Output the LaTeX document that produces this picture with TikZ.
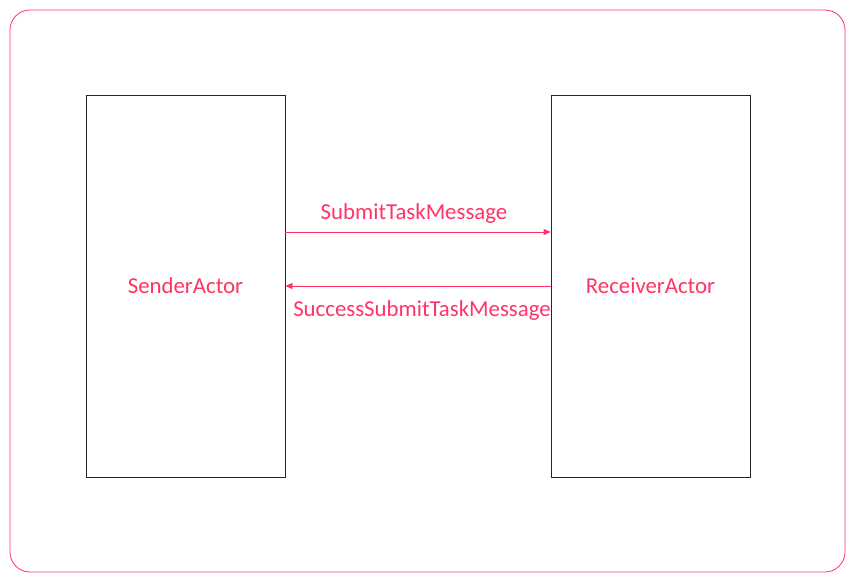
\documentclass[tikz,border=0pt]{standalone}
\usepackage{fontspec}
\setmainfont{Carlito}
\usetikzlibrary{arrows.meta}
\definecolor{pinkred}{HTML}{FF3366}
\tikzset{
  actor/.style={draw=black!85, line width=0.8pt, minimum width=199pt, minimum height=382pt, inner sep=0pt, text=pinkred, font=\fontsize{22.8}{26}\selectfont},
  msg/.style={draw=pinkred, line width=0.8pt, -{Triangle[length=7pt,width=6pt]}},
  lbl/.style={text=pinkred, font=\fontsize{22.8}{26}\selectfont, inner sep=0pt}
}
\begin{document}
\begin{tikzpicture}[x=1pt,y=-1pt]
\useasboundingbox (0,0) rectangle (854,578);
\draw[pinkred, line width=0.8pt, rounded corners=20pt] (10,10) rectangle (845,572);
\node[actor] (sender) at (185.5,286) {\raisebox{-2pt}{SenderActor}};
\node[actor] (receiver) at (650.5,286) {\raisebox{-2pt}{ReceiverActor}};
\coordinate (s1) at (sender.east |- 0,232);
\coordinate (r1) at (receiver.west |- 0,232);
\coordinate (s2) at (sender.east |- 0,286);
\coordinate (r2) at (receiver.west |- 0,286);
\draw[msg] (s1) -- node[lbl, above=8pt, xshift=-4pt] (m1) {SubmitTaskMessage} (r1);
\draw[msg] (r2) -- node[lbl, below=14pt, xshift=4pt] (m2) {SuccessSubmitTaskMessage} (s2);
\end{tikzpicture}
\end{document}
